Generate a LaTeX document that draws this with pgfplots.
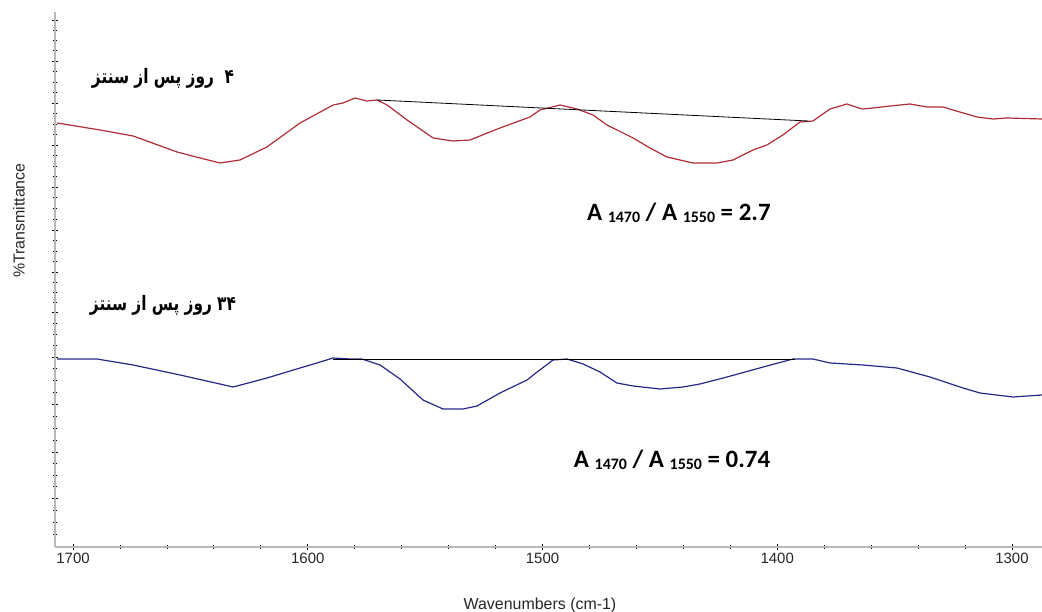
\documentclass[border=0pt]{standalone}
\usepackage{fontspec}
\setmainfont{Liberation Sans}
\newfontfamily\arabicfont[Script=Arabic]{DejaVu Sans}
\newfontfamily\calibri{Carlito}
\usepackage{pgfplots}
\pgfplotsset{compat=1.18}
\TeXXeTstate=1
\definecolor{redc}{RGB}{175,45,55}
\definecolor{bluec}{RGB}{40,40,135}
\newcommand\sub[1]{\raisebox{-2.5bp}{\fontsize{16}{16}\selectfont #1}}
\begin{document}
\begin{tikzpicture}
\useasboundingbox (0,0) rectangle (1042bp,612bp);
\begin{axis}[
  at={(55bp,65bp)}, anchor=south west,
  scale only axis, width=987bp, height=535bp,
  x dir=reverse,
  xmin=1287.2, xmax=1707.7, ymin=0, ymax=535,
  axis x line=bottom, axis y line=left,
  axis line style={-, draw=gray!55, line width=2.2bp},
  tick style={black, line width=0.8bp},
  major tick length=6bp, minor tick length=4bp,
  tick align=center,
  xtick={1300,1400,1500,1600,1700},
  minor x tick num=4,
  ytick={49,95,143,190,235,275,317,360,402,444,486,527},
  minor ytick={13,25,37,60.5,72,83.5,107,119,131,154.75,166.5,178.25,201.25,212.5,223.75,245,255,265,285.5,296,306.5,327.75,338.5,349.25,370.5,381,391.5,412.5,423,433.5,454.5,465,475.5,496.25,506.5,516.75},
  yticklabels={},
  /pgf/number format/assume math mode=true,
  /pgf/number format/1000 sep={},
  xticklabel style={font=\fontsize{15}{15}\selectfont, text=black!85},
  xlabel={Wavenumbers (cm-1)},
  xlabel style={font=\fontsize{16}{16}\selectfont, text=black!85, at={(axis description cs:0.4914,-0.1084)}, anchor=center},
  ylabel={\%Transmittance},
  ylabel style={font=\fontsize{16}{16}\selectfont, text=black!85, at={(axis description cs:-0.0365,0.61)}, anchor=center},
  clip=false,
]
% red spectrum (4 days)
\addplot[redc, line width=1.2bp] coordinates {
(1706.8,424) (1688.5,417) (1674.4,411) (1655.7,395) (1645.9,389) (1637.4,384)
(1628.9,387) (1617.4,400) (1603.3,424) (1589.2,442) (1585.0,444) (1579.9,449)
(1574.8,446) (1570.5,447) (1566.2,442) (1557.7,427) (1546.6,409) (1538.1,406)
(1530.9,407) (1518.1,419) (1505.3,430) (1501.1,437) (1492.5,442) (1485.3,438)
(1478.5,432) (1472.5,422) (1461.4,409) (1454.2,399) (1447.0,390) (1435.9,384)
(1425.7,384) (1418.8,387) (1410.3,397) (1404.4,402) (1397.6,412) (1390.3,425)
(1384.8,426) (1377.5,438) (1370.3,443) (1363.9,438) (1359.2,439) (1352.0,441)
(1343.5,443) (1336.2,440) (1329.4,440) (1322.2,435) (1314.9,430) (1308.1,428)
(1302.1,429) (1287.2,428)
};
\addplot[black, line width=0.8bp] coordinates {(1570.5,447) (1386.9,426)};
% blue spectrum (34 days)
\addplot[bluec, line width=1.2bp] coordinates {
(1706.8,188) (1689.8,188) (1674.4,182) (1654.4,172) (1631.8,160) (1617.4,169)
(1603.3,179) (1596.1,184) (1589.2,189) (1582.0,188) (1576.9,188) (1569.2,182)
(1560.7,168) (1550.9,147) (1542.4,138) (1533.9,138) (1527.9,141) (1518.1,154)
(1506.6,167) (1502.3,175) (1495.5,187) (1489.6,188) (1482.7,183) (1475.5,175)
(1468.3,164) (1461.4,161) (1449.9,158) (1440.1,160) (1432.9,163) (1421.4,170)
(1404.4,181) (1393.3,188) (1387.3,188) (1384.8,188) (1377.5,184) (1363.5,182)
(1349.0,179) (1334.9,170) (1320.9,159) (1313.6,154) (1299.6,150) (1287.2,152)
};
\addplot[black, line width=0.8bp] coordinates {(1589.2,188) (1392.4,188)};
% labels
\node[font=\arabicfont\bfseries\fontsize{20}{20}\selectfont, xscale=0.77] at (axis cs:1661.7,469) {\beginR ۴~ روز پس از سنتز\endR};
\node[font=\arabicfont\bfseries\fontsize{20}{20}\selectfont, xscale=0.77] at (axis cs:1661.7,242) {\beginR \beginL ۳۴\endL{} روز پس از سنتز\endR};
\node[font=\calibri\bfseries\fontsize{25}{25}\selectfont] at (axis cs:1441.9,334) {A \sub{1470} / A \sub{1550} = 2.7};
\node[font=\calibri\bfseries\fontsize{25}{25}\selectfont] at (axis cs:1444.8,87) {A \sub{1470} / A \sub{1550} = 0.74};
\end{axis}
\end{tikzpicture}
\end{document}
